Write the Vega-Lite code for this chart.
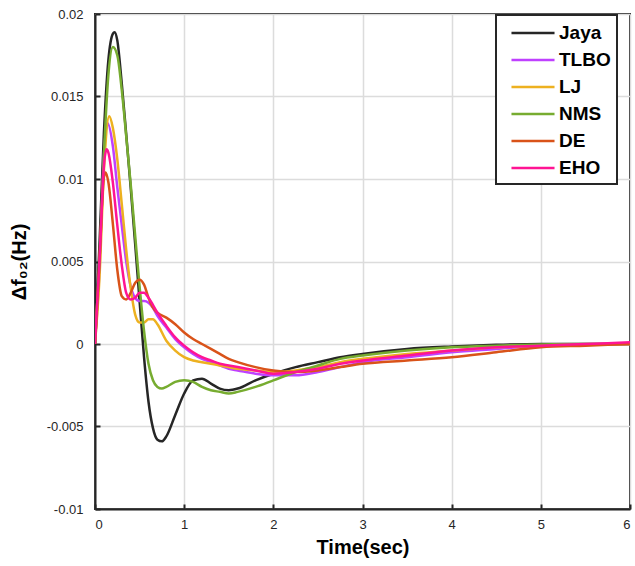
{
  "$schema": "https://vega.github.io/schema/vega-lite/v6.json",
  "width": 535,
  "height": 495,
  "autosize": "none",
  "padding": {"left": 95, "top": 14, "right": 5, "bottom": 57},
  "background": "white",
  "config": {
    "view": {"stroke": "#262626", "strokeWidth": 2},
    "font": "Liberation Sans",
    "legend": {"strokeWidth": 2},
    "axis": {
      "labelFont": "Liberation Sans",
      "labelFontSize": 13,
      "labelColor": "#262626",
      "titleFont": "Liberation Sans",
      "titleFontSize": 20,
      "titleFontWeight": "bold",
      "titleColor": "#000000",
      "gridColor": "#dcdcdc",
      "gridWidth": 1.5,
      "domainColor": "#262626",
      "domainWidth": 2,
      "tickColor": "#262626",
      "tickWidth": 2,
      "tickSize": -5
    }
  },
  "data": {"values": [
    {"s":"Jaya","t":0,"v":0},{"s":"Jaya","t":0.05,"v":0.006},{"s":"Jaya","t":0.1,"v":0.0128},{"s":"Jaya","t":0.15,"v":0.0172},{"s":"Jaya","t":0.2,"v":0.0188},{"s":"Jaya","t":0.22,"v":0.0189},{"s":"Jaya","t":0.25,"v":0.0184},{"s":"Jaya","t":0.3,"v":0.0158},{"s":"Jaya","t":0.35,"v":0.0127},{"s":"Jaya","t":0.4,"v":0.0095},{"s":"Jaya","t":0.45,"v":0.0061},{"s":"Jaya","t":0.5,"v":0.0026},{"s":"Jaya","t":0.55,"v":-0.0008},{"s":"Jaya","t":0.6,"v":-0.0035},{"s":"Jaya","t":0.65,"v":-0.0051},{"s":"Jaya","t":0.7,"v":-0.0058},{"s":"Jaya","t":0.75,"v":-0.0059},{"s":"Jaya","t":0.8,"v":-0.0056},{"s":"Jaya","t":0.9,"v":-0.0043},{"s":"Jaya","t":1.0,"v":-0.003},{"s":"Jaya","t":1.1,"v":-0.0022},{"s":"Jaya","t":1.2,"v":-0.0021},{"s":"Jaya","t":1.3,"v":-0.0024},{"s":"Jaya","t":1.4,"v":-0.0027},{"s":"Jaya","t":1.5,"v":-0.0028},{"s":"Jaya","t":1.6,"v":-0.0027},{"s":"Jaya","t":1.8,"v":-0.0022},{"s":"Jaya","t":2.0,"v":-0.0018},{"s":"Jaya","t":2.25,"v":-0.0014},{"s":"Jaya","t":2.5,"v":-0.0011},{"s":"Jaya","t":2.75,"v":-0.0008},{"s":"Jaya","t":3.0,"v":-0.0006},{"s":"Jaya","t":3.5,"v":-0.0003},{"s":"Jaya","t":4.0,"v":-0.00015},{"s":"Jaya","t":4.5,"v":-0.00005},{"s":"Jaya","t":5.0,"v":0},{"s":"Jaya","t":5.5,"v":0},{"s":"Jaya","t":6.0,"v":0},

    {"s":"TLBO","t":0,"v":0},{"s":"TLBO","t":0.05,"v":0.0045},{"s":"TLBO","t":0.1,"v":0.0115},{"s":"TLBO","t":0.14,"v":0.0134},{"s":"TLBO","t":0.2,"v":0.012},{"s":"TLBO","t":0.25,"v":0.0095},{"s":"TLBO","t":0.3,"v":0.0072},{"s":"TLBO","t":0.35,"v":0.005},{"s":"TLBO","t":0.4,"v":0.0035},{"s":"TLBO","t":0.45,"v":0.0028},{"s":"TLBO","t":0.5,"v":0.0026},{"s":"TLBO","t":0.55,"v":0.0026},{"s":"TLBO","t":0.6,"v":0.0025},{"s":"TLBO","t":0.65,"v":0.0022},{"s":"TLBO","t":0.7,"v":0.0017},{"s":"TLBO","t":0.8,"v":0.001},{"s":"TLBO","t":0.9,"v":0.0003},{"s":"TLBO","t":1.0,"v":-0.0002},{"s":"TLBO","t":1.1,"v":-0.0006},{"s":"TLBO","t":1.2,"v":-0.0009},{"s":"TLBO","t":1.3,"v":-0.0011},{"s":"TLBO","t":1.4,"v":-0.0013},{"s":"TLBO","t":1.5,"v":-0.0015},{"s":"TLBO","t":1.6,"v":-0.0016},{"s":"TLBO","t":1.8,"v":-0.0018},{"s":"TLBO","t":2.0,"v":-0.0019},{"s":"TLBO","t":2.25,"v":-0.0019},{"s":"TLBO","t":2.5,"v":-0.0017},{"s":"TLBO","t":2.75,"v":-0.0014},{"s":"TLBO","t":3.0,"v":-0.0011},{"s":"TLBO","t":3.5,"v":-0.0008},{"s":"TLBO","t":4.0,"v":-0.0005},{"s":"TLBO","t":4.5,"v":-0.0003},{"s":"TLBO","t":5.0,"v":-0.0001},{"s":"TLBO","t":5.5,"v":-0.00005},{"s":"TLBO","t":6.0,"v":0},

    {"s":"LJ","t":0,"v":0},{"s":"LJ","t":0.05,"v":0.004},{"s":"LJ","t":0.1,"v":0.0105},{"s":"LJ","t":0.16,"v":0.0138},{"s":"LJ","t":0.2,"v":0.0131},{"s":"LJ","t":0.25,"v":0.0112},{"s":"LJ","t":0.3,"v":0.0085},{"s":"LJ","t":0.35,"v":0.0057},{"s":"LJ","t":0.4,"v":0.0034},{"s":"LJ","t":0.45,"v":0.0018},{"s":"LJ","t":0.5,"v":0.0013},{"s":"LJ","t":0.55,"v":0.0013},{"s":"LJ","t":0.6,"v":0.0015},{"s":"LJ","t":0.65,"v":0.0015},{"s":"LJ","t":0.7,"v":0.0012},{"s":"LJ","t":0.8,"v":0.0002},{"s":"LJ","t":0.9,"v":-0.0004},{"s":"LJ","t":1.0,"v":-0.0008},{"s":"LJ","t":1.1,"v":-0.001},{"s":"LJ","t":1.2,"v":-0.0011},{"s":"LJ","t":1.3,"v":-0.0012},{"s":"LJ","t":1.4,"v":-0.0013},{"s":"LJ","t":1.5,"v":-0.0014},{"s":"LJ","t":1.6,"v":-0.0015},{"s":"LJ","t":1.8,"v":-0.0016},{"s":"LJ","t":2.0,"v":-0.0017},{"s":"LJ","t":2.25,"v":-0.0016},{"s":"LJ","t":2.5,"v":-0.0014},{"s":"LJ","t":2.75,"v":-0.0011},{"s":"LJ","t":3.0,"v":-0.0009},{"s":"LJ","t":3.5,"v":-0.0006},{"s":"LJ","t":4.0,"v":-0.0004},{"s":"LJ","t":4.5,"v":-0.0002},{"s":"LJ","t":5.0,"v":-0.0001},{"s":"LJ","t":5.5,"v":-0.00003},{"s":"LJ","t":6.0,"v":0},

    {"s":"NMS","t":0,"v":0},{"s":"NMS","t":0.05,"v":0.005},{"s":"NMS","t":0.1,"v":0.0115},{"s":"NMS","t":0.15,"v":0.0163},{"s":"NMS","t":0.2,"v":0.018},{"s":"NMS","t":0.25,"v":0.0175},{"s":"NMS","t":0.3,"v":0.0154},{"s":"NMS","t":0.35,"v":0.0126},{"s":"NMS","t":0.4,"v":0.0097},{"s":"NMS","t":0.45,"v":0.0066},{"s":"NMS","t":0.5,"v":0.0035},{"s":"NMS","t":0.55,"v":0.0008},{"s":"NMS","t":0.6,"v":-0.0012},{"s":"NMS","t":0.65,"v":-0.0022},{"s":"NMS","t":0.7,"v":-0.0026},{"s":"NMS","t":0.75,"v":-0.0027},{"s":"NMS","t":0.8,"v":-0.0026},{"s":"NMS","t":0.9,"v":-0.0023},{"s":"NMS","t":1.0,"v":-0.0022},{"s":"NMS","t":1.1,"v":-0.0023},{"s":"NMS","t":1.2,"v":-0.0026},{"s":"NMS","t":1.3,"v":-0.0028},{"s":"NMS","t":1.4,"v":-0.0029},{"s":"NMS","t":1.5,"v":-0.003},{"s":"NMS","t":1.6,"v":-0.0029},{"s":"NMS","t":1.8,"v":-0.0026},{"s":"NMS","t":2.0,"v":-0.0022},{"s":"NMS","t":2.25,"v":-0.0017},{"s":"NMS","t":2.5,"v":-0.0013},{"s":"NMS","t":2.75,"v":-0.0009},{"s":"NMS","t":3.0,"v":-0.0007},{"s":"NMS","t":3.5,"v":-0.0004},{"s":"NMS","t":4.0,"v":-0.0002},{"s":"NMS","t":4.5,"v":-0.0001},{"s":"NMS","t":5.0,"v":-0.00003},{"s":"NMS","t":5.5,"v":0},{"s":"NMS","t":6.0,"v":0},

    {"s":"DE","t":0,"v":0},{"s":"DE","t":0.05,"v":0.005},{"s":"DE","t":0.1,"v":0.0101},{"s":"DE","t":0.12,"v":0.0104},{"s":"DE","t":0.15,"v":0.0098},{"s":"DE","t":0.2,"v":0.0073},{"s":"DE","t":0.25,"v":0.0045},{"s":"DE","t":0.3,"v":0.0029},{"s":"DE","t":0.35,"v":0.0027},{"s":"DE","t":0.4,"v":0.0031},{"s":"DE","t":0.45,"v":0.0037},{"s":"DE","t":0.5,"v":0.0039},{"s":"DE","t":0.55,"v":0.0036},{"s":"DE","t":0.6,"v":0.0028},{"s":"DE","t":0.65,"v":0.0022},{"s":"DE","t":0.7,"v":0.0019},{"s":"DE","t":0.8,"v":0.0016},{"s":"DE","t":0.9,"v":0.0012},{"s":"DE","t":1.0,"v":0.0007},{"s":"DE","t":1.1,"v":0.0003},{"s":"DE","t":1.2,"v":0.0},{"s":"DE","t":1.3,"v":-0.0003},{"s":"DE","t":1.4,"v":-0.0006},{"s":"DE","t":1.5,"v":-0.0009},{"s":"DE","t":1.6,"v":-0.0011},{"s":"DE","t":1.8,"v":-0.0014},{"s":"DE","t":2.0,"v":-0.0016},{"s":"DE","t":2.25,"v":-0.0017},{"s":"DE","t":2.5,"v":-0.0016},{"s":"DE","t":2.75,"v":-0.0014},{"s":"DE","t":3.0,"v":-0.0012},{"s":"DE","t":3.5,"v":-0.001},{"s":"DE","t":4.0,"v":-0.0008},{"s":"DE","t":4.5,"v":-0.0005},{"s":"DE","t":5.0,"v":-0.0002},{"s":"DE","t":5.5,"v":-0.0001},{"s":"DE","t":6.0,"v":0},

    {"s":"EHO","t":0,"v":0},{"s":"EHO","t":0.05,"v":0.005},{"s":"EHO","t":0.1,"v":0.0108},{"s":"EHO","t":0.13,"v":0.0118},{"s":"EHO","t":0.15,"v":0.0116},{"s":"EHO","t":0.2,"v":0.0098},{"s":"EHO","t":0.25,"v":0.0072},{"s":"EHO","t":0.3,"v":0.0048},{"s":"EHO","t":0.35,"v":0.0031},{"s":"EHO","t":0.4,"v":0.0027},{"s":"EHO","t":0.45,"v":0.0028},{"s":"EHO","t":0.5,"v":0.0031},{"s":"EHO","t":0.55,"v":0.0031},{"s":"EHO","t":0.6,"v":0.0028},{"s":"EHO","t":0.7,"v":0.0019},{"s":"EHO","t":0.8,"v":0.0011},{"s":"EHO","t":0.9,"v":0.0004},{"s":"EHO","t":1.0,"v":-0.0001},{"s":"EHO","t":1.1,"v":-0.0005},{"s":"EHO","t":1.2,"v":-0.0008},{"s":"EHO","t":1.3,"v":-0.001},{"s":"EHO","t":1.4,"v":-0.0012},{"s":"EHO","t":1.5,"v":-0.0013},{"s":"EHO","t":1.6,"v":-0.0014},{"s":"EHO","t":1.8,"v":-0.0016},{"s":"EHO","t":2.0,"v":-0.0018},{"s":"EHO","t":2.25,"v":-0.0017},{"s":"EHO","t":2.5,"v":-0.0015},{"s":"EHO","t":2.75,"v":-0.0012},{"s":"EHO","t":3.0,"v":-0.001},{"s":"EHO","t":3.5,"v":-0.0007},{"s":"EHO","t":4.0,"v":-0.0004},{"s":"EHO","t":4.5,"v":-0.0002},{"s":"EHO","t":5.0,"v":-0.0001},{"s":"EHO","t":5.5,"v":0},{"s":"EHO","t":6.0,"v":0.0001}
  ]},
  "mark": {"type": "line", "strokeWidth": 2.5, "interpolate": "monotone", "clip": true},
  "encoding": {
    "x": {
      "field": "t", "type": "quantitative",
      "scale": {"domain": [0, 6], "nice": false},
      "axis": {"title": "Time(sec)", "values": [0,1,2,3,4,5,6], "labelPadding": 14, "titlePadding": 6, "grid": true}
    },
    "y": {
      "field": "v", "type": "quantitative",
      "scale": {"domain": [-0.01, 0.02], "nice": false, "zero": false},
      "axis": {"title": "Δf₀₂(Hz)", "values": [-0.01,-0.005,0,0.005,0.01,0.015,0.02], "format": "~g", "labelExpr": "replace(datum.label, '−', '-')", "labelPadding": 17, "titlePadding": 17, "grid": true}
    },
    "color": {
      "field": "s", "type": "nominal",
      "scale": {"domain": ["Jaya","TLBO","LJ","NMS","DE","EHO"], "range": ["#262626","#bf40ff","#edb120","#77ac30","#d95319","#ff1493"]},
      "legend": {
        "title": null, "orient": "none", "legendX": 401, "legendY": 1,
        "symbolType": "M-2.05,0H2.05", "symbolSize": 441, "symbolStrokeWidth": 2.5,
        "labelFont": "Liberation Sans", "labelFontSize": 19, "labelFontWeight": "bold", "labelColor": "#000000",
        "labelExpr": "datum.label + '  '",
        "rowPadding": 5, "padding": 6, "strokeColor": "#262626", "fillColor": "white",
        "labelOffset": 14, "symbolOffset": 19
      }
    }
  }
}
